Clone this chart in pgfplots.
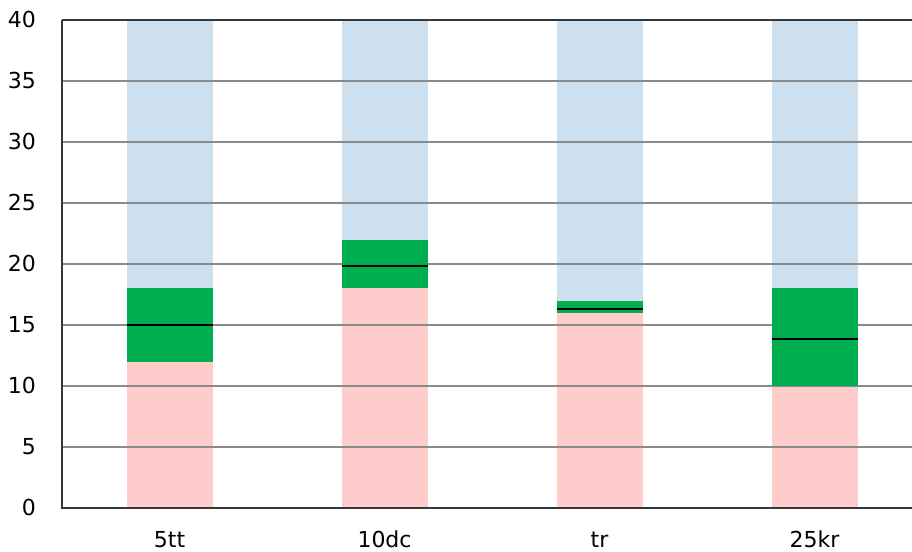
\documentclass[border=0pt]{standalone}
\usepackage{pgfplots}
\pgfplotsset{compat=1.18}
\usepackage{fontspec}
\setmainfont{DejaVu Sans}
\definecolor{pinkc}{RGB}{255,204,204}
\definecolor{bluec}{RGB}{204,224,240}
\definecolor{greenc}{RGB}{0,176,80}
\definecolor{gridc}{RGB}{138,138,138}
\definecolor{axc}{RGB}{55,55,55}
\pgfplotsset{
  gridline/.style={gridc, line width=0.6pt},
}
\begin{document}
\begin{tikzpicture}
\begin{axis}[
    scale only axis,
    width=425pt, height=244pt,
    xmin=-0.5, xmax=3.453,
    ymin=0, ymax=40,
    xtick={0,1,2,3},
    xticklabels={5tt,10dc,tr,25kr},
    ytick={0,5,...,40},
    major tick length=0pt,
    tick style={draw=none},
    axis line style={draw=none},
    tick label style={font=\fontsize{11}{13}\selectfont, text=black},
    yticklabel style={xshift=-9.5pt},
    xticklabel style={yshift=-8pt, text height=8pt, text depth=2pt},
    /pgf/number format/assume math mode=true,
    clip=false, no marks,
]
% light bars: pink from 0 to the low value, blue from the high value to 40
\addplot[draw=none, fill=pinkc] coordinates {(-0.2,0) (0.2,0) (0.2,12) (-0.2,12)};
\addplot[draw=none, fill=pinkc] coordinates {(0.8,0) (1.2,0) (1.2,18) (0.8,18)};
\addplot[draw=none, fill=pinkc] coordinates {(1.8,0) (2.2,0) (2.2,16) (1.8,16)};
\addplot[draw=none, fill=pinkc] coordinates {(2.8,0) (3.2,0) (3.2,10) (2.8,10)};
\addplot[draw=none, fill=bluec] coordinates {(-0.2,18) (0.2,18) (0.2,40) (-0.2,40)};
\addplot[draw=none, fill=bluec] coordinates {(0.8,22) (1.2,22) (1.2,40) (0.8,40)};
\addplot[draw=none, fill=bluec] coordinates {(1.8,17) (2.2,17) (2.2,40) (1.8,40)};
\addplot[draw=none, fill=bluec] coordinates {(2.8,18) (3.2,18) (3.2,40) (2.8,40)};
% grid lines, seen across the light bars
\addplot[gridline] coordinates {(-0.5,5) (3.453,5)};
\addplot[gridline] coordinates {(-0.5,10) (3.453,10)};
\addplot[gridline] coordinates {(-0.5,15) (3.453,15)};
\addplot[gridline] coordinates {(-0.5,20) (3.453,20)};
\addplot[gridline] coordinates {(-0.5,25) (3.453,25)};
\addplot[gridline] coordinates {(-0.5,30) (3.453,30)};
\addplot[gridline] coordinates {(-0.5,35) (3.453,35)};
% green parts
\addplot[draw=none, fill=greenc] coordinates {(-0.2,12) (0.2,12) (0.2,18) (-0.2,18)};
\addplot[draw=none, fill=greenc] coordinates {(0.8,18) (1.2,18) (1.2,22) (0.8,22)};
\addplot[draw=none, fill=greenc] coordinates {(1.8,16) (2.2,16) (2.2,17) (1.8,17)};
\addplot[draw=none, fill=greenc] coordinates {(2.8,10) (3.2,10) (3.2,18) (2.8,18)};
% black lines in the green parts
\addplot[black, line width=1pt] coordinates {(-0.2,15) (0.2,15)};
\addplot[black, line width=1pt] coordinates {(0.8,19.84) (1.2,19.84)};
\addplot[black, line width=1pt] coordinates {(1.8,16.35) (2.2,16.35)};
\addplot[black, line width=1pt] coordinates {(2.8,13.87) (3.2,13.87)};
% axis lines
\addplot[axc, line width=0.9pt] coordinates {(-0.5,40) (3.453,40)};
\addplot[axc, line width=0.9pt] coordinates {(-0.5,40) (-0.5,0) (3.453,0)};
\end{axis}
\pgfresetboundingbox
\useasboundingbox ([xshift=-31pt,yshift=-22pt]current axis.south west) rectangle ([yshift=10pt]current axis.north east);
\end{tikzpicture}
\end{document}
